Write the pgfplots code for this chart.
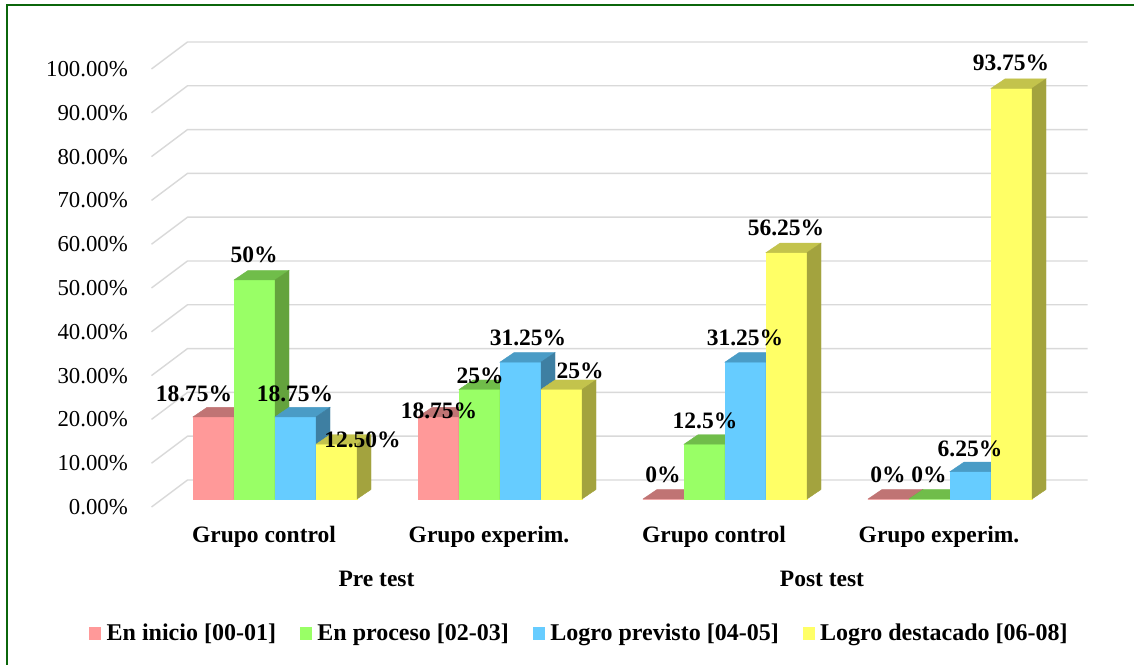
\documentclass[border=0pt]{standalone}
\usepackage{pgfplots}
\usepackage{pgfplotstable}
\pgfplotsset{compat=1.18}
\usepackage{fontspec}
\setmainfont{Liberation Serif}
\definecolor{rF}{HTML}{FF9999}\definecolor{rT}{HTML}{C07474}\definecolor{rS}{HTML}{A65F5F}
\definecolor{gF}{HTML}{99FF66}\definecolor{gT}{HTML}{70BD4A}\definecolor{gS}{HTML}{64A33D}
\definecolor{bF}{HTML}{66CCFF}\definecolor{bT}{HTML}{4A9CC6}\definecolor{bS}{HTML}{3E7FA2}
\definecolor{yF}{HTML}{FFFF66}\definecolor{yT}{HTML}{C3C34C}\definecolor{yS}{HTML}{A3A33E}
\definecolor{gridc}{HTML}{D9D9D9}
\definecolor{framec}{HTML}{0B660B}

\pgfdeclareplotmark{nothing}{}

\pgfplotstableread{
g v
0 18.75
1 18.75
2 0
3 0
}\tabR
\pgfplotstableread{
g v
0 50
1 25
2 12.5
3 0
}\tabG
\pgfplotstableread{
g v
0 18.75
1 31.25
2 31.25
3 6.25
}\tabB
\pgfplotstableread{
g v
0 12.5
1 25
2 56.25
3 93.75
}\tabY
% label positions (x in group units, y in %) and texts
\pgfplotstableread{
x y lab
-0.36 23.97 18.75
-0.0933 55.71 50
0.0889 23.97 18.75
0.3889 13.47 12.50
0.7289 20.09 18.75
0.9111 28.08 25
1.1244 36.76 31.25
1.3556 29.22 25
1.7244 5.48 0
1.9111 17.81 12.5
2.0889 36.76 31.25
2.2711 61.87 56.25
2.7244 5.48 0
2.9067 5.48 0
3.0889 11.42 6.25
3.2711 99.54 93.75
}\tabL

% each bar: front face, top face and side face, drawn at its top-left front corner
\pgfplotsset{
  bar3d/.style n args={3}{only marks, mark=nothing, scatter, point meta=y,
    visualization depends on={\thisrow{v} \as \val},
    scatter/@pre marker code/.code={%
      \pgfmathsetmacro\hh{\val*4.38}%
      \pgfmathsetmacro\hb{9.5-\hh}%
      \fill[#1] (0bp,0bp) rectangle (41bp,-\hh bp);
      \fill[#2] (0bp,0bp) -- (14bp,9.5bp) -- (55bp,9.5bp) -- (41bp,0bp) -- cycle;
      \fill[#3] (41bp,0bp) -- (55bp,9.5bp) -- (55bp,\hb bp) -- (41bp,-\hh bp) -- cycle;
    },
    scatter/@post marker code/.code={},
    legend image code/.code={\fill[#1] (0bp,-6bp) rectangle (11bp,6bp);}},
}

\begin{document}
\begin{tikzpicture}
\path[use as bounding box] (0,0) rectangle (1134bp,665bp);
\fill[white] (0,0) rectangle (1134bp,665bp);
\draw[framec, line width=2bp] (7bp,0bp) -- (7bp,660bp) -- (1134bp,660bp);
\begin{axis}[at={(162.5bp,166bp)}, anchor=south west,
  x=225bp, y=4.38bp, xmin=-0.5, xmax=3.5, ymin=0, ymax=100,
  enlargelimits=false, clip=false,
  axis line style={draw=none}, major tick length=0pt, tick style={draw=none},
  xtick={0,1,2,3},
  xticklabels={Grupo control, Grupo experim., Grupo control, Grupo experim.},
  xticklabel style={font=\bfseries\fontsize{23.5bp}{28bp}\selectfont, anchor=base, inner sep=0pt, yshift=-43.5bp, xshift=-11bp},
  ytick={0,10,...,100},
  yticklabels={0.00\%,10.00\%,20.00\%,30.00\%,40.00\%,50.00\%,60.00\%,70.00\%,80.00\%,90.00\%,100.00\%},
  yticklabel style={font=\fontsize{22.8bp}{27bp}\selectfont, anchor=east, inner sep=0pt, xshift=-34.5bp, yshift=-8bp},
  legend columns=4,
  legend cell align=left,
  legend style={at={(0.4622,-0.3059)}, anchor=center, draw=none, fill=none,
    font=\bfseries\fontsize{24bp}{29bp}\selectfont, inner sep=0pt,
    nodes={inner sep=0pt},
    /tikz/every even column/.append style={column sep=24bp},
    /tikz/every odd column/.append style={column sep=6bp}},
]
\pgfplotsinvokeforeach{0,10,20,30,40,50,60,70,80,90,100}{
  \draw[gridc, line width=1.4bp] ([shift={(-11bp,-8bp)}]axis cs:-0.5,#1) -- ([shift={(25bp,19bp)}]axis cs:-0.5,#1) -- ([shift={(25bp,19bp)}]axis cs:3.5,#1);
}
\addplot[bar3d={rF}{rT}{rS}] table[x expr=\thisrow{g}-0.36444, y=v]{\tabR};
\addlegendentry{En inicio [00-01]}
\addplot[bar3d={gF}{gT}{gS}] table[x expr=\thisrow{g}-0.18222, y=v]{\tabG};
\addlegendentry{En proceso [02-03]}
\addplot[bar3d={bF}{bT}{bS}] table[x expr=\thisrow{g}, y=v]{\tabB};
\addlegendentry{Logro previsto [04-05]}
\addplot[bar3d={yF}{yT}{yS}] table[x expr=\thisrow{g}+0.18222, y=v]{\tabY};
\addlegendentry{Logro destacado [06-08]}
\addplot[forget plot, draw=none, mark=none, point meta=explicit symbolic,
  nodes near coords={\pgfplotspointmeta\%},
  every node near coord/.append style={anchor=center, inner sep=0pt, text=black,
    font=\bfseries\fontsize{23.5bp}{28bp}\selectfont}]
  table[x=x, y=y, meta=lab]{\tabL};
\node[font=\bfseries\fontsize{23.5bp}{28bp}\selectfont, anchor=base, inner sep=0pt] at ([shift={(-11bp,-87.5bp)}]axis cs:0.5,0) {Pre test};
\node[font=\bfseries\fontsize{23.5bp}{28bp}\selectfont, anchor=base, inner sep=0pt] at ([shift={(-11bp,-87.5bp)}]axis cs:2.48,0) {Post test};
\end{axis}
\end{tikzpicture}
\end{document}
